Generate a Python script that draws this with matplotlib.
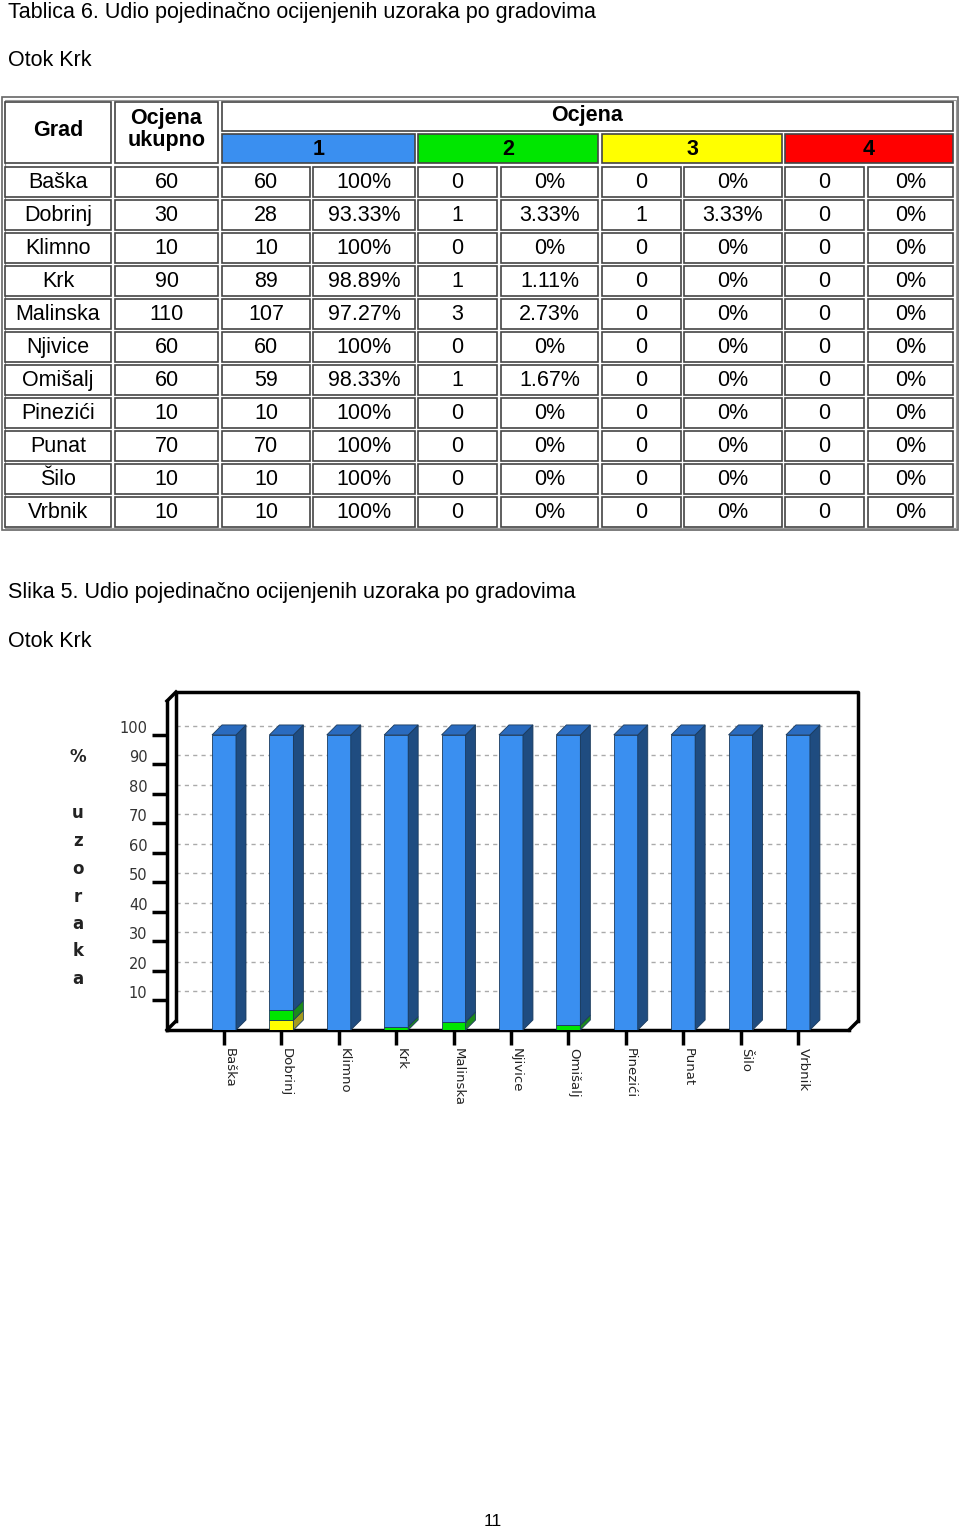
import matplotlib
matplotlib.use("Agg")
import matplotlib.pyplot as plt
from matplotlib.patches import Rectangle, Polygon
from matplotlib.transforms import ScaledTranslation

plt.rcParams['font.family'] = ['Liberation Sans', 'DejaVu Sans']

towns = ['Baška', 'Dobrinj', 'Klimno', 'Krk', 'Malinska', 'Njivice',
         'Omišalj', 'Pinezići', 'Punat', 'Šilo', 'Vrbnik']
total = [60, 30, 10, 90, 110, 60, 60, 10, 70, 10, 10]
n1 = [60, 28, 10, 89, 107, 60, 59, 10, 70, 10, 10]
n2 = [0, 1, 0, 1, 3, 0, 1, 0, 0, 0, 0]
n3 = [0, 1, 0, 0, 0, 0, 0, 0, 0, 0, 0]
n4 = [0, 0, 0, 0, 0, 0, 0, 0, 0, 0, 0]
p1 = [100, 93.33, 100, 98.89, 97.27, 100, 98.33, 100, 100, 100, 100]
p2 = [0, 3.33, 0, 1.11, 2.73, 0, 1.67, 0, 0, 0, 0]
p3 = [0, 3.33, 0, 0, 0, 0, 0, 0, 0, 0, 0]
p4 = [0, 0, 0, 0, 0, 0, 0, 0, 0, 0, 0]
grades = ['1', '2', '3', '4']
yticks = [10, 20, 30, 40, 50, 60, 70, 80, 90, 100]
ylabel = '%  uzoraka'

grade_colors = ['#3a8ff0', '#00e600', '#ffff00', '#ff0000']
side_colors = ['#1f4c80', '#1c8a1c', '#a39a1e', '#8a1010']
top_color = '#2a6bbf'

W, H = 960, 1530
fig = plt.figure(figsize=(W / 100, H / 100), dpi=100)
page = fig.add_axes([0, 0, 1, 1])
page.set_xlim(0, W)
page.set_ylim(H, 0)
page.axis('off')

txt = dict(fontsize=15.5, color='black')
page.text(8, 12, 'Tablica 6. Udio pojedinačno ocijenjenih uzoraka po gradovima', va='center', **txt)
page.text(8, 60, 'Otok Krk', va='center', **txt)
page.text(8, 592, 'Slika 5. Udio pojedinačno ocijenjenih uzoraka po gradovima', va='center', **txt)
page.text(8, 641, 'Otok Krk', va='center', **txt)
page.text(493, 1522, '11', ha='center', va='center', fontsize=12.5)

# ---- table ----
edge = '#444444'
page.add_patch(Rectangle((2, 97), 956, 433, fill=False, ec='#666666', lw=1.2))
page.add_patch(Rectangle((4.5, 99.5), 951, 428, fill=False, ec='#999999', lw=0.8))

cols = [(5, 111), (115, 218), (222, 310), (313, 415), (418, 497), (501, 598),
        (602, 681), (684, 782), (785, 864), (868, 953)]


def cell(x0, x1, y0, y1, s, bold=False, fc='white', dy=1):
    page.add_patch(Rectangle((x0, y0), x1 - x0, y1 - y0, fc=fc, ec=edge, lw=1.2))
    page.text((x0 + x1) / 2, (y0 + y1) / 2 + dy, s, ha='center', va='center',
              fontsize=15.5, fontweight='bold' if bold else 'normal', linespacing=1.05)


cell(*cols[0], 102, 163, 'Grad', bold=True, dy=-2)
cell(*cols[1], 102, 163, 'Ocjena\nukupno', bold=True, dy=-3)
cell(cols[2][0], cols[9][1], 102, 131, 'Ocjena', bold=True, dy=-1)
for g in range(4):
    cell(cols[2 + 2 * g][0], cols[3 + 2 * g][1], 134, 163, grades[g], bold=True,
         fc=grade_colors[g])

counts = [n1, n2, n3, n4]
pcts = [p1, p2, p3, p4]
for i, t in enumerate(towns):
    y0 = 167 + 33 * i
    y1 = y0 + 29.5
    cell(*cols[0], y0, y1, t)
    cell(*cols[1], y0, y1, str(total[i]))
    for g in range(4):
        cell(*cols[2 + 2 * g], y0, y1, str(counts[g][i]))
        cell(*cols[3 + 2 * g], y0, y1, f'{pcts[g][i]:g}%')

# ---- chart ----
left, right, bottom, top = 167, 849, 1030, 701
ax = fig.add_axes([left / W, 1 - bottom / H, (right - left) / W, (bottom - top) / H])
x0, x1 = -0.993, 10.89
y0, y1 = 0, 111.5
ax.set_xlim(x0, x1)
ax.set_ylim(y0, y1)
ax.patch.set_alpha(0)
for s in ['top', 'right']:
    ax.spines[s].set_visible(False)
for s in ['left', 'bottom']:
    ax.spines[s].set_linewidth(2.5)
    ax.spines[s].set_zorder(1)

wall = 9
back = ax.transData + ScaledTranslation(wall / 100, wall / 100, fig.dpi_scale_trans)
ax.plot([x0, x0, x1, x1], [y0, y1, y1, y0], color='black', lw=2.5, transform=back,
        clip_on=False, zorder=1)
for v in yticks:
    ax.plot([x0, x1], [v, v], color='#aaaaaa', lw=1, ls=(0, (3, 3)), transform=back,
            clip_on=False, zorder=0)
# depth edges
ppx = (right - left) / (x1 - x0)
ppy = (bottom - top) / (y1 - y0)
wx, wy = wall / ppx, wall / ppy
for (a, b) in [(x0, y0), (x0, y1), (x1, y0)]:
    ax.plot([a, a + wx], [b, b + wy], color='black', lw=2.5, clip_on=False, zorder=1)

xs = list(range(len(towns)))
bw = 24 / ppx
depth = 10
dx, dy = depth / ppx, depth / ppy
stack = [p4, p3, p2, p1]
scol = [3, 2, 1, 0]
base = [0.0] * len(towns)
for k, vals in enumerate(stack):
    g = scol[k]
    ax.bar(xs, vals, bw, bottom=base, color=grade_colors[g], ec='#1a3a5c', lw=0.6,
           zorder=3)
    for i, v in enumerate(vals):
        if v <= 0:
            continue
        xr = xs[i] + bw / 2
        b0, b1 = base[i], base[i] + v
        ax.add_patch(Polygon([(xr, b0), (xr + dx, b0 + dy), (xr + dx, b1 + dy), (xr, b1)],
                             closed=True, fc=side_colors[g], ec='#1a3a5c', lw=0.6,
                             zorder=3, clip_on=False))
    base = [b + v for b, v in zip(base, vals)]
for i in xs:
    xl = xs[i] - bw / 2
    t = base[i]
    ax.add_patch(Polygon([(xl, t), (xl + bw, t), (xl + bw + dx, t + dy), (xl + dx, t + dy)],
                         closed=True, fc=top_color, ec='#1a3a5c', lw=0.6, zorder=3,
                         clip_on=False))

ax.set_yticks(yticks)
ax.set_yticklabels([str(v) for v in yticks])
ax.tick_params(axis='y', length=11, width=2.5, pad=3, labelsize=10.5, labelcolor='#333333')
up = ScaledTranslation(0, 8 / 100, fig.dpi_scale_trans)
for lab in ax.get_yticklabels():
    lab.set_fontfamily('DejaVu Sans')
    lab.set_transform(lab.get_transform() + up)

ax.set_xticks(xs)
ax.set_xticklabels(towns, rotation=270)
ax.tick_params(axis='x', length=11, width=2.5, pad=2, labelsize=9.5, labelcolor='#222222')
rt = ScaledTranslation(5 / 100, 0, fig.dpi_scale_trans)
for lab in ax.get_xticklabels():
    lab.set_fontfamily('DejaVu Sans')
    lab.set_transform(lab.get_transform() + rt)

# vertical axis title, one letter per line
ys = [757, 813, 841, 869, 897, 924, 951, 979]
for ch, yy in zip(ylabel.replace(' ', ''), ys):
    page.text(78, yy, ch, ha='center', va='center', fontsize=12, fontweight='bold',
              family='DejaVu Sans', color='#222222')

fig.savefig('out.png', dpi=100)
